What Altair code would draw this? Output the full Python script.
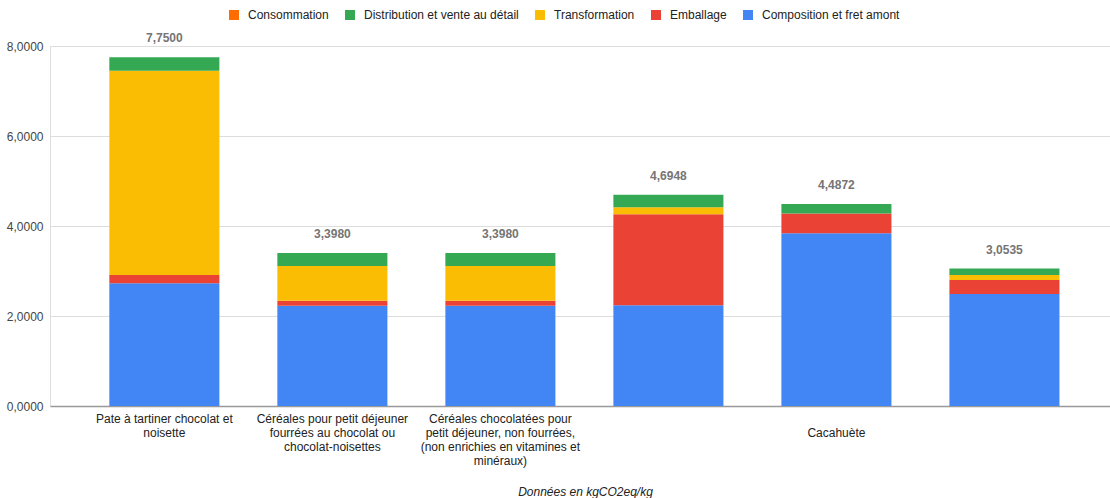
import json
import altair as alt
import pandas as pd

# ---- data ----
category_lines = [
    ["Pate à tartiner chocolat et", "noisette"],
    ["Céréales pour petit déjeuner", "fourrées au chocolat ou", "chocolat-noisettes"],
    ["Céréales chocolatées pour", "petit déjeuner, non fourrées,", "(non enrichies en vitamines et", "minéraux)"],
    [""],
    ["", "Cacahuète"],
    [""],
]
series = ["Consommation", "Distribution et vente au détail", "Transformation",
          "Emballage", "Composition et fret amont"]
colors = ["#FF6D01", "#34A853", "#FBBC04", "#EA4335", "#4285F4"]

composition = [2.73, 2.23, 2.23, 2.24, 3.84, 2.49]
emballage = [0.18, 0.11, 0.11, 2.02, 0.44, 0.31]
transformation = [4.54, 0.77, 0.77, 0.155, 0.0, 0.11]
distribution = [0.30, 0.288, 0.288, 0.2798, 0.2072, 0.1435]
consommation = [0.0, 0.0, 0.0, 0.0, 0.0, 0.0]
totals = [7.75, 3.398, 3.398, 4.6948, 4.4872, 3.0535]
y_ticks = [0, 2, 4, 6, 8]

# ---- build tables ----
stack_order = {
    "Composition et fret amont": (0, composition),
    "Emballage": (1, emballage),
    "Transformation": (2, transformation),
    "Distribution et vente au détail": (3, distribution),
    "Consommation": (4, consommation),
}
rows = []
for name, (order, vals) in stack_order.items():
    for i, v in enumerate(vals):
        rows.append({"idx": i, "serie": name, "value": v, "ord": order})
df = pd.DataFrame(rows)
df_tot = pd.DataFrame({"idx": list(range(len(totals))), "total": totals})

label_expr = json.dumps(category_lines, ensure_ascii=False) + "[datum.value]"

FONT = "Liberation Sans"

x_scale = alt.Scale(paddingInner=0.345, paddingOuter=0.327, align=0.54)

x_enc = alt.X(
    "idx:O",
    scale=x_scale,
    sort=list(range(len(totals))),
    axis=alt.Axis(
        title="Données en kgCO2eq/kg",
        titleFontStyle="italic",
        titleFontWeight="normal",
        titleFontSize=12,
        titleColor="#222222",
        titleFont=FONT,
        titleX=535,
        titleY=85,
        titleAlign="center",
        titleBaseline="middle",
        labelExpr=label_expr,
        labelAngle=0,
        labelFontSize=12,
        labelColor="#222222",
        labelFont=FONT,
        labelLineHeight=14,
        labelPadding=7,
        labelLimit=300,
        ticks=False,
        domainColor="#999999",
        domainWidth=1.5,
    ),
)

y_scale = alt.Scale(domain=[0, 8], nice=False)

bars = alt.Chart(df).mark_bar().encode(
    x=x_enc,
    y=alt.Y(
        "value:Q",
        stack="zero",
        scale=y_scale,
        axis=alt.Axis(
            title=None,
            values=y_ticks,
            labelExpr="replace(format(datum.value, '.4f'), '.', ',')",
            labelFontSize=12,
            labelColor="#444444",
            labelFont=FONT,
            labelPadding=7,
            ticks=False,
            domain=False,
            gridColor="#dddddd",
        ),
    ),
    color=alt.Color(
        "serie:N",
        scale=alt.Scale(domain=series, range=colors),
        legend=alt.Legend(
            title=None,
            orient="none",
            direction="horizontal",
            legendX=178,
            legendY=-37,
            symbolType="square",
            symbolSize=100,
            symbolStrokeWidth=0,
            labelFontSize=12,
            labelColor="#222222",
            labelFont=FONT,
            labelOffset=8,
            columnPadding=15,
            labelLimit=400,
        ),
    ),
    order=alt.Order("ord:Q", sort="ascending"),
)

labels = alt.Chart(df_tot).transform_calculate(
    txt="replace(format(datum.total, '.4f'), '.', ',')"
).mark_text(
    fontWeight="bold", fontSize=12, color="#757575", font=FONT,
    baseline="middle", dy=-19,
).encode(
    x=alt.X("idx:O", scale=x_scale, sort=list(range(len(totals)))),
    y=alt.Y("total:Q", scale=y_scale),
    text="txt:N",
)

chart = alt.layer(bars, labels).properties(
    width=1060,
    height=360,
    autosize=alt.AutoSizeParams(type="none"),
    padding={"left": 50, "top": 46, "right": 0, "bottom": 92},
).configure_view(stroke=None).configure(font=FONT)

chart.save("out.html", embed_options={"renderer": "svg", "actions": False})
